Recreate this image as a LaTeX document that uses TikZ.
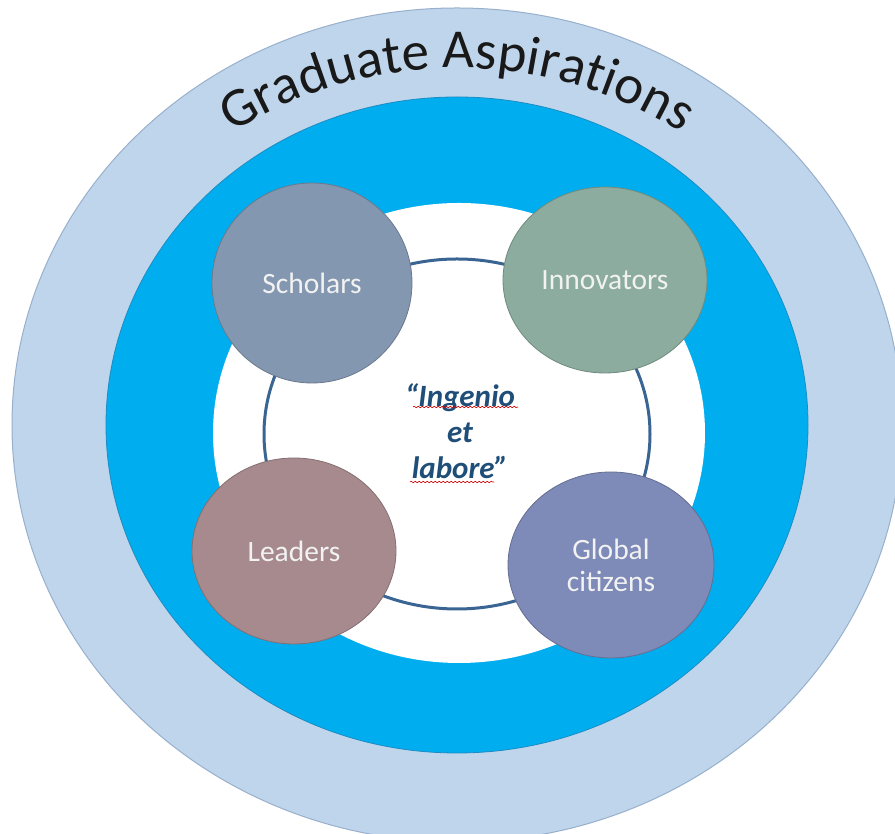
\documentclass[tikz,border=0pt]{standalone}
\usepackage{fontspec}
\setmainfont{Carlito}
\usetikzlibrary{shapes.geometric,decorations.text,decorations.pathmorphing}
\definecolor{outerblue}{HTML}{BFD5EC}
\definecolor{outeredge}{HTML}{98B0CC}
\definecolor{midblue}{HTML}{00AEEF}
\definecolor{midedge}{HTML}{1B8CC4}
\definecolor{ringblue}{HTML}{3A6593}
\definecolor{scholarc}{HTML}{8497B0}
\definecolor{innovc}{HTML}{8BAC9E}
\definecolor{leaderc}{HTML}{A68A8E}
\definecolor{globalc}{HTML}{7E8AB7}
\definecolor{mottoc}{HTML}{1F4E79}
\definecolor{labelc}{HTML}{F2F2F2}
\begin{document}
\begin{tikzpicture}[x=1pt,y=1pt,
  disc/.style={ellipse, inner sep=0pt, outer sep=0pt},
  rolecircle/.style={disc, draw=#1!80!black, line width=0.8pt, fill=#1,
     text=labelc, align=center, font=\fontsize{29.5}{32}\selectfont},
  squiggle/.style={draw=red!85!black, line width=0.6pt,
     decorate, decoration={snake, segment length=4pt, amplitude=0.8pt}}]
\useasboundingbox (0,0) rectangle (895,834);
\fill[white] (0,0) rectangle (895,834);
\begin{scope}
\clip (0,0) rectangle (895,834);
\node[disc, fill=outerblue, draw=outeredge, line width=1pt,
      minimum width=890, minimum height=834] (outer) at (457,409) {};
\node[disc, fill=midblue, draw=midedge, line width=0.8pt,
      minimum width=702, minimum height=656] (middle) at (457,409) {};
\node[disc, fill=white, minimum width=492, minimum height=460] (inner) at (459,401) {};
\node[disc, draw=ringblue, line width=3pt,
      minimum width=386, minimum height=350] (ring) at (457,400) {};
\node[rolecircle=scholarc, minimum width=200, minimum height=200] (scholars) at (312,551) {Scholars};
\node[rolecircle=innovc, minimum width=204, minimum height=186] (innovators) at (605,554) {Innovators};
\node[rolecircle=leaderc, minimum width=204, minimum height=186] (leaders) at (294,283) {Leaders};
\node[rolecircle=globalc, minimum width=206, minimum height=186] (global) at (611,269) {Global\\citizens};
\node[text=mottoc, align=center, font=\fontsize{31}{36}\selectfont\bfseries\itshape] (motto) at (460,403)
  {“Ingenio\\et\\labore”};
\coordinate (sqa1) at (413,427);
\coordinate (sqa2) at (518,427);
\coordinate (sqb1) at (410,352);
\coordinate (sqb2) at (494,352);
\path[squiggle] (sqa1) -- (sqa2);
\path[squiggle] (sqb1) -- (sqb2);
\coordinate (titlecentre) at (457,346);
\path[decorate, decoration={text along path, text align=center,
      text={|\fontsize{55}{58}\selectfont\color{black!90}|Graduate Aspirations}}]
  (titlecentre) ++(130:420) arc[start angle=130, end angle=50, radius=420];
\end{scope}
\end{tikzpicture}
\end{document}
